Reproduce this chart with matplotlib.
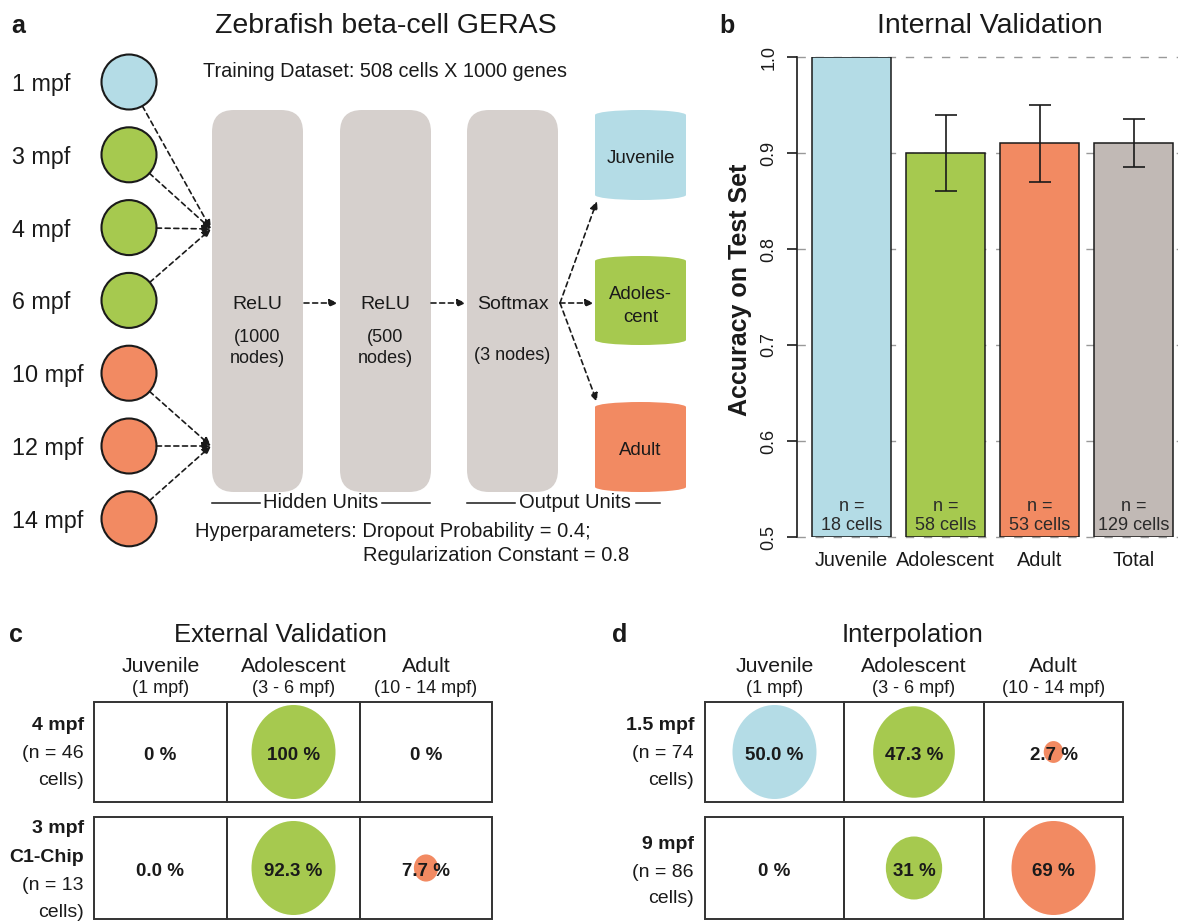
import numpy as np
import matplotlib.pyplot as plt
from matplotlib.patches import Circle, Ellipse, Rectangle, FancyBboxPatch
from matplotlib.transforms import ScaledTranslation

plt.rcParams['font.family'] = ['Liberation Sans', 'DejaVu Sans']

# ---------------- data ----------------
ages = ['1 mpf', '3 mpf', '4 mpf', '6 mpf', '10 mpf', '12 mpf', '14 mpf']
age_stage = [0, 1, 1, 1, 2, 2, 2]          # index into stage colours
layer_names = ['ReLU', 'ReLU', 'Softmax']
layer_nodes = [['(1000', 'nodes)'], ['(500', 'nodes)'], ['(3 nodes)']]
out_names = [['Juvenile'], ['Adoles-', 'cent'], ['Adult']]

b_groups = ['Juvenile', 'Adolescent', 'Adult', 'Total']
b_acc = [1.0, 0.90, 0.91, 0.91]
b_err_lo = [0.0, 0.04, 0.04, 0.025]
b_err_hi = [0.0, 0.04, 0.04, 0.025]
b_n = [18, 58, 53, 129]

stages = ['Juvenile', 'Adolescent', 'Adult']
stage_ranges = ['(1 mpf)', '(3 - 6 mpf)', '(10 - 14 mpf)']

ext_rows_bold = [['4 mpf'], ['3 mpf', 'C1-Chip']]
ext_rows_n = [46, 13]
ext_pct = [[0, 100, 0], [0.0, 92.3, 7.7]]
ext_txt = [['0 %', '100 %', '0 %'], ['0.0 %', '92.3 %', '7.7 %']]

int_rows_bold = [['1.5 mpf'], ['9 mpf']]
int_rows_n = [74, 86]
int_pct = [[50.0, 47.3, 2.7], [0, 31, 69]]
int_txt = [['50.0 %', '47.3 %', '2.7 %'], ['0 %', '31 %', '69 %']]

# ---------------- style ----------------
C_JUV = '#b4dce6'
C_ADO = '#a6c94f'
C_ADU = '#f28a62'
C_TOT = '#c1b9b5'
C_BOX = '#d6d0cd'
INK = '#1a1a1a'
stage_col = [C_JUV, C_ADO, C_ADU]

W, H = 1178, 921
fig = plt.figure(figsize=(W / 100, H / 100), dpi=100, facecolor='white')
ax = fig.add_axes([0, 0, 1, 1])
ax.set_xlim(0, W)
ax.set_ylim(H, 0)
ax.axis('off')


def txt(x, y, s, size, weight='normal', ha='center', rot=0):
    ax.text(x, y, s, fontsize=size, fontweight=weight, ha=ha, va='baseline',
            color=INK, rotation=rot)


def arrow(x0, y0, x1, y1):
    ax.annotate('', xy=(x1, y1), xytext=(x0, y0),
                arrowprops=dict(arrowstyle='-|>,head_length=0.5,head_width=0.22',
                                linestyle=(0, (3, 2.2)), lw=1.2, color=INK,
                                shrinkA=0, shrinkB=0))


# ---------------- panel a ----------------
txt(18, 33, 'a', 18, 'bold')
txt(386, 33, 'Zebrafish beta-cell GERAS', 20.5)
txt(385, 77, 'Training Dataset: 508 cells X 1000 genes', 14.3)

cx, r = 129, 27.5
for i, (lab, st) in enumerate(zip(ages, age_stage)):
    cy = 82 + i * 72.8
    ax.add_patch(Circle((cx, cy), r, facecolor=stage_col[st], edgecolor=INK, lw=1.5))
    txt(12, cy + 9, lab, 16.8, ha='left')
    tx, ty = (211, 229) if i < 4 else (211, 446)
    d = np.hypot(tx - cx, ty - cy)
    sx, sy = cx + r * (tx - cx) / d, cy + r * (ty - cy) / d
    arrow(sx, sy, tx, ty)

box_x = [212, 340, 467]
for i, x0 in enumerate(box_x):
    ax.add_patch(FancyBboxPatch((x0, 110), 91, 382, boxstyle='round,pad=0,rounding_size=22',
                                facecolor=C_BOX, edgecolor='none'))
    xc = x0 + 45.5
    txt(xc, 309, layer_names[i], 14)
    if len(layer_nodes[i]) == 2:
        txt(xc, 342, layer_nodes[i][0], 13)
        txt(xc, 363, layer_nodes[i][1], 13)
    else:
        txt(xc, 360, layer_nodes[i][0], 13)

arrow(304, 303, 338, 303)
arrow(431, 303, 466, 303)

out_y = [(110, 200), (256, 345), (402, 492)]
for (y0, y1), names, col in zip(out_y, out_names, stage_col):
    ax.add_patch(Rectangle((595, y0 + 5), 91, y1 - y0 - 10, facecolor=col, edgecolor='none'))
    ax.add_patch(Ellipse((640.5, y0 + 5), 91, 10, facecolor=col, edgecolor='none'))
    ax.add_patch(Ellipse((640.5, y1 - 5), 91, 10, facecolor=col, edgecolor='none'))
    yc = (y0 + y1) / 2
    if len(names) == 1:
        txt(640.5, yc + 8, names[0], 13.4)
    else:
        txt(640.5, yc - 2, names[0], 13.4)
        txt(640.5, yc + 21, names[1], 13.4)

arrow(560, 303, 597, 201)
arrow(560, 303, 594, 303)
arrow(560, 303, 597, 402)

ax.plot([212, 260], [503, 503], color=INK, lw=1.1)
ax.plot([382, 430], [503, 503], color=INK, lw=1.1)
txt(321, 508, 'Hidden Units', 14.5)
ax.plot([467, 515], [503, 503], color=INK, lw=1.1)
ax.plot([636, 660], [503, 503], color=INK, lw=1.1)
txt(575, 508, 'Output Units', 14.5)
txt(195, 537, 'Hyperparameters: Dropout Probability = 0.4;', 14.5, ha='left')
txt(363, 561, 'Regularization Constant = 0.8', 14.5, ha='left')

# ---------------- panel b ----------------
txt(727, 33, 'b', 18, 'bold')
txt(990, 33, 'Internal Validation', 20.5)

bx = fig.add_axes([797 / W, 1 - 537 / H, (W - 797) / W, 480 / H])
bx.set_facecolor('none')
xs = np.arange(len(b_groups))
for yv in np.arange(0.5, 1.01, 0.1):
    bx.axhline(yv, color='#999999', lw=1.0, linestyle=(0, (6, 7)), zorder=0, clip_on=False)
bx.bar(xs, [a - 0.5 for a in b_acc], bottom=0.5, width=0.84,
       color=[C_JUV, C_ADO, C_ADU, C_TOT], edgecolor=INK, lw=1.1, zorder=2)
bx.errorbar(xs[1:], b_acc[1:], yerr=[b_err_lo[1:], b_err_hi[1:]], fmt='none',
            ecolor=INK, elinewidth=1.2, capsize=8, capthick=1.2, zorder=3)
shift = bx.transData + ScaledTranslation(0, 3 / 100, fig.dpi_scale_trans)
for x, n in zip(xs, b_n):
    bx.text(x, 0.5, 'n =\n%d cells' % n, ha='center', va='bottom', fontsize=13,
            color='#2a2a2a', linespacing=1.15, transform=shift)
bx.set_xlim(-0.58, 3.47)
bx.set_ylim(0.5, 1.0)
bx.set_yticks(np.arange(0.5, 1.01, 0.1))
bx.set_yticklabels(['0.5', '0.6', '0.7', '0.8', '0.9', '1.0'], rotation=90, va='center')
bx.tick_params(axis='y', length=7, width=1.2, pad=7, labelsize=13, colors=INK)
bx.set_xticks(xs)
bx.set_xticklabels(b_groups, fontsize=14.3, color=INK)
bx.tick_params(axis='x', length=0, pad=10)
for s in ['top', 'right', 'bottom']:
    bx.spines[s].set_visible(False)
bx.spines['left'].set_linewidth(1.2)
bx.spines['left'].set_color(INK)
fig.text(740 / W, 1 - 290 / H, 'Accuracy on Test Set', rotation=90, ha='center', va='center',
         fontsize=18, fontweight='bold', color=INK)


# ---------------- panels c and d ----------------
def table(letter, lx, title, tx, edges, rows_bold, rows_n, pct, labels, label_x, bold_base):
    txt(lx, 642, letter, 18, 'bold')
    txt(tx, 642, title, 18.5)
    for j in range(3):
        xc = (edges[j] + edges[j + 1]) / 2
        txt(xc, 672, stages[j], 15.4)
        txt(xc, 693, stage_ranges[j], 13)
    row_y = [(702, 802), (817, 919)]
    for i, (y0, y1) in enumerate(row_y):
        yc = (y0 + y1) / 2
        pmax = max(pct[i])
        for j in range(3):
            xc = (edges[j] + edges[j + 1]) / 2
            ax.add_patch(Rectangle((edges[j], y0), edges[j + 1] - edges[j], y1 - y0,
                                   facecolor='none', edgecolor='#333333', lw=1.4))
            if pct[i][j] > 0:
                f = np.sqrt(pct[i][j] / pmax)
                ax.add_patch(Ellipse((xc, yc), 84 * f, 94 * f, facecolor=stage_col[j],
                                     edgecolor='none'))
            txt(xc, yc + 8, labels[i][j], 13.5, 'bold')
        bases = bold_base[i]
        k = 0
        for s in rows_bold[i]:
            txt(label_x, bases[k], s, 14, 'bold', ha='right')
            k += 1
        txt(label_x, bases[k], '(n = %d' % rows_n[i], 14, ha='right')
        txt(label_x, bases[k + 1], 'cells)', 14, ha='right')


table('c', 16, 'External Validation', 280, [94, 227, 360, 492],
      ext_rows_bold, ext_rows_n, ext_pct, ext_txt, 84,
      [[730, 758, 785], [833, 862, 890, 917]])
table('d', 620, 'Interpolation', 913, [705, 844, 984, 1123],
      int_rows_bold, int_rows_n, int_pct, int_txt, 694,
      [[730, 758, 785], [849, 877, 903]])

fig.savefig('out.png', dpi=100, facecolor='white')
